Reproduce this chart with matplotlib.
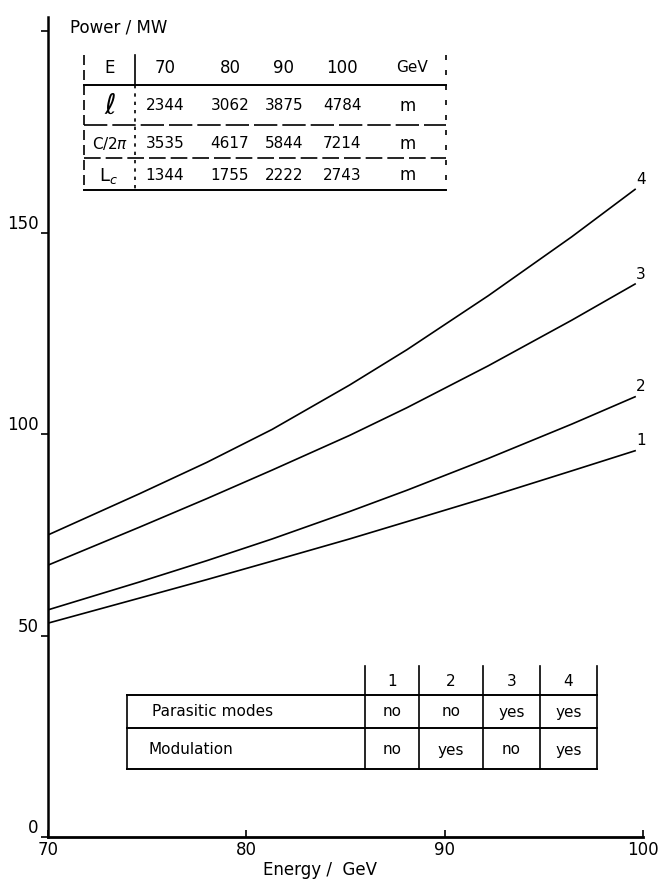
import numpy as np
import matplotlib
matplotlib.use("Agg")
import matplotlib.pyplot as plt
from matplotlib.lines import Line2D

# values
energy = [70, 74.6, 78.0, 81.3, 85.2, 88.1, 92.2, 96.4, 99.6]
p1 = [53.1, 59.3, 63.9, 68.5, 74.0, 78.3, 84.4, 90.9, 95.9]
p2 = [56.4, 63.3, 68.6, 74.0, 80.8, 86.1, 94.0, 102.5, 109.3]
p3 = [67.5, 76.9, 84.0, 91.1, 99.7, 106.6, 117.0, 128.3, 137.3]
p4 = [75.0, 85.2, 93.0, 101.2, 112.2, 121.0, 134.4, 149.0, 160.8]
curve_names = ["1", "2", "3", "4"]

top_cols = ["70", "80", "90", "100"]
rho = ["2344", "3062", "3875", "4784"]
circ = ["3535", "4617", "5844", "7214"]
lc = ["1344", "1755", "2222", "2743"]

parasitic = ["no", "no", "yes", "yes"]
modulation = ["no", "yes", "no", "yes"]

W, H = 658, 882
fig = plt.figure(figsize=(W / 100, H / 100), dpi=100)
plt.rcParams['font.family'] = ['DejaVu Sans']


def fx(px):
    return px / W


def fy(py):
    return 1 - py / H


ax = fig.add_axes([fx(48), fy(837), fx(643) - fx(48), fy(17) - fy(837)])
ax.set_xlim(70, 100)
ax.set_ylim(0, 203.6)
for s in ["top", "right"]:
    ax.spines[s].set_visible(False)
ax.spines["left"].set_linewidth(1.8)
ax.spines["bottom"].set_linewidth(2.0)

for y in [p1, p2, p3, p4]:
    ax.plot(energy, y, color="black", lw=1.2, solid_joinstyle="round")
for y, name in zip([p1, p2, p3, p4], curve_names):
    ax.text(energy[-1] + 0.05, y[-1] + 0.6, name, fontsize=11, ha="left", va="bottom")

ax.set_xticks([70, 80, 90, 100])
ax.set_xticklabels(["70", "80", "90", "100"], fontsize=12)
ax.set_yticks([0, 50, 100, 150, 200])
ax.set_yticklabels(["0", "50", "100", "150", ""], fontsize=12)
ax.tick_params(axis="x", direction="in", length=5, width=1.2, pad=3)
ax.tick_params(axis="y", direction="out", length=5, width=1.2, pad=2)
for lab in ax.get_yticklabels():
    lab.set_verticalalignment("bottom")

fig.text(fx(70), fy(28), "Power / MW", fontsize=12, ha="left", va="center")
fig.text(fx(320), fy(870), "Energy /  GeV", fontsize=12, ha="center", va="center")


def hline(x0, x1, y, ls="-", lw=1.2):
    fig.add_artist(Line2D([fx(x0), fx(x1)], [fy(y), fy(y)], color="black", lw=lw, ls=ls))


def vline(x, y0, y1, ls="-", lw=1.2):
    fig.add_artist(Line2D([fx(x), fx(x)], [fy(y0), fy(y1)], color="black", lw=lw, ls=ls))


# top table
hline(84, 446, 85, lw=1.4)
hline(84, 446, 125, ls=(0, (14, 3)))
hline(84, 446, 158, ls=(0, (10, 3)))
hline(84, 446, 190, lw=1.4)
vline(84, 55, 190, ls=(0, (6, 3)))
vline(135, 55, 85)
vline(135, 85, 190, ls=(0, (2, 3)))
vline(446, 55, 190, ls=(0, (3, 6)))

col_x = [165, 230, 284, 342]
fig.text(fx(110), fy(68), "E", fontsize=12, ha="center", va="center")
fig.text(fx(110), fy(106), r"$\ell$", fontsize=20, ha="center", va="center")
fig.text(fx(110), fy(143), r"C/2$\pi$", fontsize=11, ha="center", va="center")
fig.text(fx(108), fy(176), r"L$_c$", fontsize=13, ha="center", va="center")
for x, a, b, c, d in zip(col_x, top_cols, rho, circ, lc):
    fig.text(fx(x), fy(68), a, fontsize=12, ha="center", va="center")
    fig.text(fx(x), fy(106), b, fontsize=11, ha="center", va="center")
    fig.text(fx(x), fy(144), c, fontsize=11, ha="center", va="center")
    fig.text(fx(x), fy(175), d, fontsize=11, ha="center", va="center")
fig.text(fx(412), fy(68), "GeV", fontsize=11, ha="center", va="center")
for yy in [106, 144, 175]:
    fig.text(fx(408), fy(yy), "m", fontsize=12, ha="center", va="center")

# bottom table
bx = [365, 419, 483, 540, 597]
hline(127, 597, 695, lw=1.4)
hline(127, 597, 728, lw=1.4)
hline(127, 597, 769, lw=1.4)
vline(127, 695, 769)
for x in bx:
    vline(x, 666, 769)
fig.text(fx(152), fy(712), "Parasitic modes", fontsize=11, ha="left", va="center")
fig.text(fx(149), fy(750), "Modulation", fontsize=11, ha="left", va="center")
for i in range(4):
    cx = (bx[i] + bx[i + 1]) / 2
    fig.text(fx(cx), fy(681), curve_names[i], fontsize=11, ha="center", va="center")
    fig.text(fx(cx), fy(712), parasitic[i], fontsize=11, ha="center", va="center")
    fig.text(fx(cx), fy(750), modulation[i], fontsize=11, ha="center", va="center")

fig.savefig("out.png", dpi=100)
